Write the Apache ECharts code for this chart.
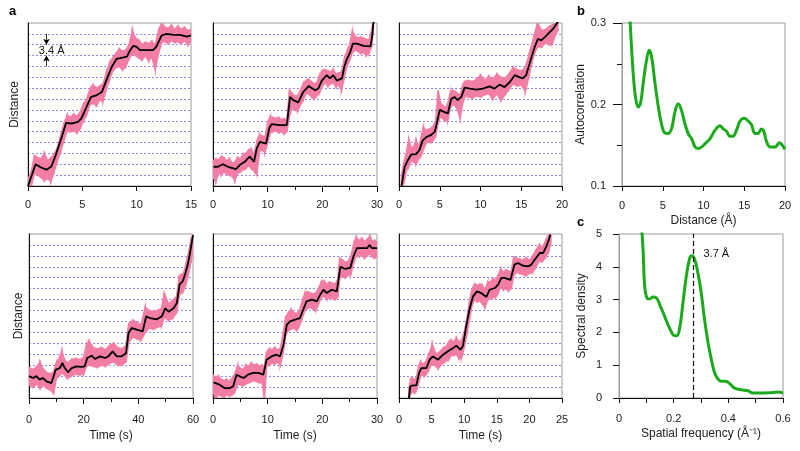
<!DOCTYPE html>
<html><head><meta charset="utf-8">
<script src="https://cdn.jsdelivr.net/npm/echarts@6/dist/echarts.min.js"></script>
<style>html,body{margin:0;padding:0;background:#fff}#c{width:800px;height:451px}</style>
</head><body><div id="c"></div>
<script>
// ---------- DATA ----------
// Panel a traces: black = smoothed [time, distance(step units)], pink = raw band [time, low, high]
const black1 = [[0,0],[0.7,2.0],[1.2,1.7],[1.7,1.5],[2.15,1.8],[2.5,2.7],[2.8,3.6],[3.2,4.8],[3.5,5.8],[4.0,5.75],[4.6,5.9],[4.9,6.2],[5.4,7.3],[5.8,8.2],[6.3,8.35],[6.8,8.65],[7.2,9.7],[7.7,10.95],[8.15,11.7],[8.6,11.8],[9.1,11.9],[9.4,12.5],[9.7,12.9],[10.0,12.8],[10.3,12.5],[10.9,12.5],[11.5,12.5],[11.8,12.8],[12.3,13.85],[12.75,14.0],[13.4,13.9],[14.0,13.9],[14.6,13.75],[15,13.85]];
const pink1 = [[0,0,0.6],[0.3,0,1.3],[0.6,1.2,2.8],[0.9,1.0,2.6],[1.2,0.8,2.5],[1.5,0.5,3.0],[1.8,0.7,2.3],[2.1,0.4,2.6],[2.4,1.3,2.9],[2.7,2.3,3.5],[3.0,3.2,4.6],[3.3,4.2,5.7],[3.6,5.1,6.5],[3.9,5.0,6.3],[4.2,5.1,6.6],[4.5,4.9,6.4],[4.8,5.3,6.8],[5.1,6.0,7.5],[5.4,6.6,8.0],[5.7,7.5,8.9],[6.0,7.6,9.3],[6.3,7.4,9.0],[6.6,7.9,9.2],[6.9,7.8,9.4],[7.2,8.9,10.4],[7.5,9.8,11.3],[7.8,10.6,11.8],[8.1,10.9,12.2],[8.4,11.0,12.6],[8.7,10.7,12.4],[9.0,11.0,12.5],[9.3,11.7,13.0],[9.6,12.2,14.3],[9.9,12.0,13.6],[10.2,11.8,13.4],[10.5,11.6,13.0],[10.8,12.0,13.2],[11.1,11.5,13.1],[11.4,11.9,13.3],[11.7,10.7,13.0],[12.0,12.2,14.2],[12.3,13.2,15.0],[12.6,13.3,14.6],[12.9,13.1,14.5],[13.2,13.4,14.8],[13.5,13.2,14.4],[13.8,13.3,14.7],[14.1,13.1,14.4],[14.4,13.4,14.6],[14.7,13.0,14.3],[15.0,13.4,14.4]];

const black2 = [[0.1,1.77],[0.9,1.77],[1.8,2.0],[2.75,1.77],[4.2,1.56],[4.9,1.93],[5.8,2.23],[6.7,2.7],[7.5,2.23],[8.0,3.46],[8.6,4.07],[9.7,3.9],[10.3,5.3],[10.7,5.7],[12.2,5.6],[13.5,5.6],[14.1,8.2],[14.7,7.9],[15.6,7.7],[16.5,8.65],[17.5,9.2],[18.1,9.0],[18.7,8.8],[19.3,9.0],[19.9,9.7],[20.8,10.2],[21.4,9.9],[22.0,10.2],[22.65,9.7],[23.6,9.9],[24.0,10.95],[24.5,11.7],[25.0,12.2],[25.6,13.1],[26.3,13.1],[27.55,12.9],[28.8,12.85],[29.1,13.7],[29.3,14.8],[29.4,15.2]];
const pink2 = [[0,0.8,2.3],[0.5,0.4,2.5],[1,1.2,2.4],[1.5,1.0,2.7],[2,1.3,2.6],[2.5,1.1,2.3],[3,1.0,2.5],[3.5,0.9,2.1],[4,0.5,2.2],[4.5,1.2,2.6],[5,1.3,2.5],[5.5,1.5,2.9],[6,1.6,3.0],[6.5,1.9,3.3],[7,1.6,3.4],[7.5,1.4,2.9],[8,1.0,4.0],[8.5,3.2,4.7],[9,3.3,4.6],[9.5,3.1,4.5],[10,4.0,5.7],[10.5,4.9,6.4],[11,5.0,6.3],[11.5,5.1,6.2],[12,4.9,6.3],[12.5,5.0,6.1],[13,4.8,6.2],[13.5,5.0,6.0],[14,6.5,8.8],[14.5,7.2,8.5],[15,7.0,8.3],[15.5,6.9,8.3],[16,7.5,8.8],[16.5,7.9,9.4],[17,8.5,9.7],[17.5,8.5,9.8],[18,8.2,9.6],[18.5,8.0,9.4],[19,8.3,9.5],[19.5,8.6,10.2],[20,9.2,10.6],[20.5,9.5,10.7],[21,9.2,10.6],[21.5,9.4,10.5],[22,9.5,10.7],[22.5,9.1,10.3],[23,9.3,10.4],[23.5,8.8,10.5],[24,10.0,11.6],[24.5,11.0,12.4],[25,11.6,13.0],[25.5,12.3,14.2],[26,12.5,13.8],[26.5,12.4,13.6],[27,12.2,13.7],[27.5,12.3,13.6],[28,12.0,13.5],[28.5,12.2,13.4],[29,12.8,14.2],[29.3,14.2,15.2]];

const black3 = [[0.3,0],[0.5,0.86],[0.7,1.77],[1.1,2.4],[1.5,2.9],[2.1,2.94],[2.5,3.3],[2.9,4.2],[3.35,4.5],[3.95,4.7],[4.4,5.0],[5.0,7.0],[5.6,6.8],[6.0,6.67],[6.4,8.0],[6.8,8.2],[7.2,7.9],[7.65,8.2],[8.05,9.05],[8.7,8.96],[9.5,8.87],[10.3,8.96],[11.1,9.17],[11.7,8.96],[12.35,9.33],[12.95,9.1],[13.6,9.57],[14.2,10.2],[14.8,10.0],[15.2,9.9],[15.6,10.2],[16.2,11.7],[16.65,12.8],[17.05,13.55],[17.45,13.4],[17.9,13.7],[18.5,14.15],[18.9,14.45],[19.3,14.9],[19.5,15.1]];
const pink3 = [[0.3,0,1.0],[0.6,0.3,2.2],[0.9,1.4,3.0],[1.2,1.8,4.3],[1.5,2.3,3.5],[1.8,2.2,3.6],[2.1,2.0,4.2],[2.4,2.5,3.6],[2.7,2.8,4.4],[3.0,3.4,5.4],[3.3,3.9,5.1],[3.6,4.1,5.2],[3.9,4.0,5.3],[4.2,4.2,5.5],[4.5,4.6,6.0],[4.8,5.8,8.8],[5.1,6.4,7.6],[5.4,6.2,7.4],[5.7,6.0,7.2],[6.0,6.1,7.6],[6.3,7.2,8.6],[6.6,7.5,8.8],[6.9,7.4,8.7],[7.2,7.0,8.5],[7.5,6.2,8.4],[7.8,7.6,9.2],[8.1,8.3,9.6],[8.5,8.2,9.7],[9,8.1,9.6],[9.5,8.3,9.8],[10,8.2,10.2],[10.5,8.4,9.7],[11,8.5,10.1],[11.5,8.0,9.8],[12,8.5,10.3],[12.5,7.9,10.0],[13,8.4,9.9],[13.5,8.9,10.3],[14,9.4,10.9],[14.5,9.2,10.7],[15,9.3,10.6],[15.5,8.7,10.9],[16,10.3,12.2],[16.5,12.0,13.6],[17,12.8,15],[17.5,12.8,14.3],[18,13.2,14.4],[18.5,13.0,14.7],[18.8,13.1,14.8],[19.2,13.9,15],[19.5,14.3,15]];

const black4 = [[0,2.0],[1.5,1.83],[2.7,2.0],[3.9,1.68],[5.1,1.83],[6.4,1.52],[8.2,1.37],[8.8,1.83],[9.8,2.6],[11.3,2.74],[12.2,3.2],[13.1,2.74],[14.3,2.35],[15.6,2.74],[17.4,2.9],[19.2,2.84],[20.4,2.9],[21.3,3.66],[22.9,3.87],[24.1,3.57],[25.96,3.81],[27.8,3.66],[29,3.81],[30.6,4.27],[32.1,3.81],[33.9,3.81],[35.5,4.1],[36.4,5.95],[37.6,6.4],[39.4,6.25],[41.6,6.1],[42.9,7.47],[44.3,7.3],[46.8,7.2],[48.6,7.47],[49.8,8.2],[51.1,7.9],[52.9,8.2],[54.1,8.7],[55.1,10.4],[56.3,10.7],[57.2,11.4],[58.1,12.2],[59.0,13.4],[59.7,13.4],[60,14.9]];
const pink4 = [[0,1.2,2.8],[1.5,1.0,2.6],[3,1.3,2.9],[4,0.9,3.3],[5,1.2,2.7],[6.5,0.9,2.3],[8,0.7,2.2],[9,0.4,2.4],[10,1.8,3.2],[11,2.0,3.6],[12,2.3,4.3],[13,2.1,3.5],[14,1.8,3.2],[15.5,2.0,3.5],[17,2.2,3.6],[18.5,2.1,3.5],[20,2.2,3.7],[21,2.9,4.8],[22,3.0,5.2],[23.5,2.9,4.6],[25,2.8,4.5],[26.5,3.0,4.6],[28,2.9,4.4],[29.5,3.2,4.8],[31,3.3,5.0],[32.5,3.0,4.6],[34,3.0,4.5],[35.5,3.3,4.8],[36.5,5.1,6.8],[38,5.6,7.1],[39.5,5.4,6.9],[41,5.3,6.7],[42.5,6.0,8.3],[44,6.4,8.0],[45.5,6.3,7.9],[47,6.5,8.0],[48.5,6.6,8.2],[49.5,7.4,9.6],[51,7.1,8.6],[52.5,7.3,8.9],[54,7.8,9.3],[55,9.4,11.2],[56.5,9.8,11.4],[57.5,10.5,12.3],[58.5,11.6,13.4],[59.3,12.5,14.5],[60,13.8,15]];

const black5 = [[0.1,1.43],[1.2,1.22],[2.1,0.91],[3.1,0.91],[3.7,1.07],[4.3,2.13],[4.9,1.98],[5.6,1.83],[6.4,2.13],[7.35,2.29],[8.3,2.29],[9.2,2.13],[9.8,3.5],[10.7,3.8],[11.6,3.96],[12.25,3.8],[12.9,4.88],[13.5,6.7],[14.1,7.0],[15.0,7.16],[15.9,7.3],[16.5,8.08],[17.1,8.84],[18.1,9.0],[19,8.84],[19.6,9.45],[20.2,9.9],[20.8,9.6],[21.7,9.9],[22.65,9.75],[23.3,12.0],[24.2,11.8],[25.1,11.9],[25.7,12.96],[26.3,13.7],[27.25,13.7],[28.2,13.7],[28.6,14.0],[29.1,13.7],[30,13.7]];
const pink5 = [[0,0.5,2.1],[0.5,0,1.9],[1,0.3,2.0],[1.5,0.2,1.7],[2,0.1,1.6],[2.5,0.3,1.7],[3,0.2,1.5],[3.5,0.3,1.8],[4,0.6,2.2],[4.5,1.3,3.0],[5,1.2,2.7],[5.5,1.1,2.6],[6,1.3,3.0],[6.5,1.4,2.9],[7,1.5,3.2],[7.5,1.6,3.0],[8,1.5,3.1],[8.5,1.4,2.9],[9,1.4,3.0],[9.4,0,2.8],[9.8,2.9,4.2],[10.3,3.0,4.5],[10.8,3.2,4.4],[11.3,3.1,4.6],[11.8,3.3,4.4],[12.3,3.0,4.5],[12.8,4.0,5.8],[13.3,5.8,7.4],[13.8,6.2,7.8],[14.3,6.3,8.1],[14.8,6.4,7.8],[15.3,6.2,7.7],[15.8,6.6,8.0],[16.3,7.3,8.8],[16.8,8.0,9.6],[17.3,8.2,9.7],[17.8,8.3,9.6],[18.3,8.1,9.5],[18.8,8.0,9.6],[19.3,8.6,10.0],[19.8,9.2,10.6],[20.3,9.3,10.7],[20.8,9.0,10.4],[21.3,9.2,10.6],[21.8,9.1,10.5],[22.3,9.0,10.4],[22.8,9.2,10.8],[23.2,11.0,12.8],[23.7,11.1,12.6],[24.2,11.0,12.4],[24.7,11.2,12.5],[25.2,11.3,12.9],[25.7,12.3,14.0],[26.2,13.0,14.7],[26.7,12.9,14.4],[27.2,13.1,14.6],[27.7,12.8,14.3],[28.2,13.0,14.5],[28.7,13.2,14.8],[29.2,12.9,14.3],[29.6,12.8,14.4],[30,13.0,14.2]];

const black6 = [[1.53,0],[1.74,1.07],[2.15,1.16],[2.66,1.16],[3.07,2.29],[3.43,2.74],[4.2,2.74],[4.7,3.5],[5.2,3.8],[6.0,3.5],[6.75,3.96],[7.5,4.27],[8.3,4.57],[8.8,4.79],[9.4,4.42],[9.8,4.73],[10.3,6.55],[10.8,8.08],[11.35,9.3],[11.96,9.75],[12.6,9.6],[13.4,9.24],[13.9,9.9],[14.7,10.06],[15.2,10.37],[15.7,10.98],[16.2,10.98],[17.1,10.8],[17.7,12.2],[18.25,12.35],[19.0,12.1],[19.8,12.04],[20.3,12.2],[20.8,12.65],[21.6,13.26],[22.1,13.26],[22.6,13.87],[23.0,14.5],[23.2,14.94]];
const pink6 = [[1.5,0,0.8],[1.8,0.4,1.8],[2.1,0.6,1.8],[2.4,0.5,1.6],[2.7,0.8,1.9],[3.0,1.4,2.9],[3.3,2.0,3.3],[3.6,2.1,3.1],[3.9,2.0,3.2],[4.2,2.2,3.4],[4.5,2.5,3.9],[4.8,2.9,4.3],[5.1,3.1,4.9],[5.4,3.0,4.4],[5.7,2.9,4.0],[6.0,2.7,4.1],[6.4,3.0,4.3],[6.8,3.2,4.6],[7.2,3.4,4.7],[7.6,3.5,5.1],[8.0,3.9,5.3],[8.4,3.9,5.1],[8.8,4.0,5.5],[9.2,3.6,5.1],[9.6,3.7,5.3],[10.0,4.6,6.0],[10.4,5.8,7.2],[10.8,7.2,8.8],[11.2,8.5,10.0],[11.6,9.0,10.4],[12.0,8.8,10.3],[12.4,8.9,10.4],[12.8,8.6,10.3],[13.2,8.3,9.9],[13.6,9.0,10.6],[14.0,9.1,10.6],[14.4,9.2,10.9],[14.8,9.2,10.8],[15.2,9.6,11.2],[15.6,10.2,11.8],[16.0,9.9,11.5],[16.4,10.0,11.7],[16.8,9.8,11.6],[17.2,10.0,11.5],[17.6,11.2,12.9],[18.0,11.5,12.8],[18.5,11.4,12.7],[19.0,11.3,12.6],[19.5,11.2,12.8],[20.0,11.4,12.6],[20.5,11.5,13.0],[21.0,12.0,13.5],[21.5,12.5,14.0],[22.0,12.5,13.8],[22.5,12.9,14.4],[23.0,13.5,15],[23.3,14.2,15]];

// Panel b: autocorrelation vs distance (Å)
const autoDist = [0.9,1.19,1.47,1.72,2.0,2.3,2.6,3.0,3.35,3.64,4.05,4.46,4.87,5.28,5.7,6.1,6.5,6.9,7.3,7.7,8.14,8.55,8.96,9.37,9.8,10.2,10.8,11.2,11.6,12.0,12.43,12.84,13.25,13.6,14.07,14.48,14.97,15.5,15.9,16.3,16.7,17.1,17.4,17.75,18.16,18.8,19.3,19.6,20];
const autoVal  = [0.32,0.2665,0.2257,0.205,0.197,0.203,0.226,0.254,0.2665,0.258,0.226,0.197,0.175,0.165,0.1645,0.171,0.191,0.201,0.193,0.177,0.164,0.158,0.148,0.146,0.148,0.152,0.158,0.165,0.171,0.174,0.170,0.167,0.161,0.161,0.169,0.1795,0.183,0.1795,0.175,0.1645,0.1645,0.170,0.167,0.154,0.148,0.148,0.153,0.151,0.145];

// Panel c: spectral density vs spatial frequency (1/Å)
const specFreq = [0.082,0.088,0.094,0.102,0.112,0.124,0.137,0.149,0.167,0.185,0.204,0.212,0.222,0.234,0.246,0.259,0.267,0.277,0.289,0.301,0.313,0.326,0.338,0.35,0.362,0.374,0.39,0.405,0.423,0.448,0.472,0.49,0.515,0.55,0.582,0.6];
const specVal  = [5.3,4.52,3.4,3.05,3.02,3.08,3.05,2.85,2.49,2.13,1.9,1.9,2.13,2.9,3.7,4.27,4.34,4.22,3.8,3.2,2.39,1.68,1.17,0.76,0.58,0.51,0.51,0.44,0.3,0.25,0.22,0.15,0.15,0.16,0.18,0.15];
const peakFreq = 0.265;
const peakLabel = '3.7 Å';

// axis settings
const xMax = [15, 30, 20, 60, 30, 25];
const xInt = [5, 10, 5, 20, 10, 5];
const xMinor = [false, true, false, true, true, false];
const stepCount = 15;          // distance axis spans 15 steps
const stepLabel = '3.4 Å';

// ---------- CHART ----------
const PINK = '#F27DA5', BLUE = '#8B8BF2', GREEN = '#1BAA1B', GRAY = '#9a9a9a';
const FONT = '"Liberation Sans", Arial, Helvetica, sans-serif';
const blacks = [black1, black2, black3, black4, black5, black6];
const pinks = [pink1, pink2, pink3, pink4, pink5, pink6];

const grids = [
  {left: 28, top: 23, width: 163, height: 163},
  {left: 213, top: 23, width: 164, height: 163},
  {left: 399, top: 23, width: 163, height: 163},
  {left: 29, top: 234, width: 164, height: 164},
  {left: 213, top: 234, width: 164, height: 164},
  {left: 399, top: 234, width: 163, height: 164},
  {left: 622, top: 23, width: 163, height: 163},
  {left: 619, top: 234, width: 164, height: 164}
].map(g => Object.assign({show: true, borderColor: GRAY, borderWidth: 1, backgroundColor: 'transparent'}, g));

const labelStyle = {color: '#222', fontFamily: FONT, fontSize: 11};
const nameStyle = {color: '#222', fontFamily: FONT, fontSize: 12};

function bandRenderer(pk) {
  return function (params, api) {
    const k = params.dataIndex;
    if (k === 0) return null;
    const a = pk[k - 1], b = pk[k];
    const pts = [api.coord([a[0], a[1]]), api.coord([b[0], b[1]]), api.coord([b[0], b[2]]), api.coord([a[0], a[2]])];
    return {
      type: 'polygon', shape: {points: pts},
      style: {fill: PINK, stroke: PINK, lineWidth: 1.6, lineJoin: 'miter'}
    };
  };
}

const xAxes = [], yAxes = [], series = [];
for (let i = 0; i < 6; i++) {
  const bottom = i >= 3;
  xAxes.push({
    type: 'value', gridIndex: i, min: 0, max: xMax[i], interval: xInt[i],
    axisLine: {lineStyle: {color: '#111', width: 1}},
    axisTick: {show: true, length: xMinor[i] ? 6 : 5, lineStyle: {color: '#111'}},
    minorTick: {show: xMinor[i], splitNumber: 2, length: 4, lineStyle: {color: '#111'}},
    axisLabel: Object.assign({margin: bottom ? 16 : 13}, labelStyle),
    splitLine: {show: false},
    name: bottom ? 'Time (s)' : '', nameLocation: 'middle', nameGap: 32, nameTextStyle: nameStyle
  });
  yAxes.push({
    type: 'value', gridIndex: i, min: 0, max: stepCount, interval: 1,
    axisLine: {show: true, lineStyle: {color: '#111', width: 1}},
    axisTick: {show: false},
    axisLabel: {show: false},
    splitLine: {show: true, showMinLine: false, showMaxLine: false, lineStyle: {color: BLUE, type: [2, 2], width: 1}},
    name: (i % 3 === 0) ? 'Distance' : '', nameLocation: 'middle', nameGap: (i === 0 ? 7 : 4), nameTextStyle: nameStyle
  });
  const pk = pinks[i];
  series.push({
    type: 'custom', xAxisIndex: i, yAxisIndex: i, clip: true, silent: true,
    data: pk, encode: {x: 0, y: [1, 2]},
    renderItem: bandRenderer(pk), z: 2
  });
  const blk = {
    type: 'line', xAxisIndex: i, yAxisIndex: i, data: blacks[i], symbol: 'none', silent: true,
    lineStyle: {color: '#000', width: 1.8}, z: 5
  };
  if (i === 0) {
    blk.markLine = {
      silent: true, symbol: ['none', 'arrow'], symbolSize: [5, 6],
      lineStyle: {color: '#000', width: 0.8, type: 'solid'}, label: {show: false},
      data: [
        [{coord: [1.7, 14]}, {coord: [1.7, 13]}],
        [{coord: [1.7, 11]}, {coord: [1.7, 12]}]
      ]
    };
    blk.markPoint = {
      silent: true, symbol: 'rect', symbolSize: 0,
      label: {show: true, position: 'inside', formatter: stepLabel, color: '#111', fontFamily: FONT, fontSize: 11},
      data: [{coord: [2.18, 12.45]}]
    };
  }
  series.push(blk);
}

// panel b
xAxes.push({
  type: 'value', gridIndex: 6, min: 0, max: 20, interval: 5,
  axisLine: {lineStyle: {color: '#111'}}, axisTick: {length: 5, lineStyle: {color: '#111'}},
  axisLabel: Object.assign({margin: 14}, labelStyle), splitLine: {show: false},
  name: 'Distance (Å)', nameLocation: 'middle', nameGap: 29, nameTextStyle: nameStyle
});
yAxes.push({
  type: 'value', gridIndex: 6, min: 0.1, max: 0.3, interval: 0.1,
  axisLine: {show: true, lineStyle: {color: GRAY}}, axisTick: {show: true, length: 9, lineStyle: {color: '#111'}},
  minorTick: {show: true, splitNumber: 2, length: 5, lineStyle: {color: '#111'}},
  axisLabel: Object.assign({margin: 16, formatter: v => v.toFixed(1)}, labelStyle), splitLine: {show: false},
  name: 'Autocorrelation', nameLocation: 'middle', nameGap: 34, nameTextStyle: nameStyle
});
series.push({
  type: 'line', xAxisIndex: 6, yAxisIndex: 6, data: autoDist.map((d, k) => [d, autoVal[k]]),
  symbol: 'none', smooth: 0.4, silent: true, lineStyle: {color: GREEN, width: 3}
});

// panel c
xAxes.push({
  type: 'value', gridIndex: 7, min: 0, max: 0.6, interval: 0.2,
  axisLine: {lineStyle: {color: '#111'}}, axisTick: {length: 5, lineStyle: {color: '#111'}},
  minorTick: {show: true, splitNumber: 2, length: 5, lineStyle: {color: '#111'}},
  axisLabel: Object.assign({margin: 15, formatter: v => (v === 0 ? '0' : v.toFixed(1))}, labelStyle), splitLine: {show: false},
  name: 'Spatial frequency (Å⁻¹)', nameLocation: 'middle', nameGap: 30, nameTextStyle: nameStyle
});
yAxes.push({
  type: 'value', gridIndex: 7, min: 0, max: 5, interval: 1,
  axisLine: {show: true, lineStyle: {color: GRAY}}, axisTick: {show: true, length: 6, lineStyle: {color: '#111'}},
  axisLabel: Object.assign({margin: 17}, labelStyle), splitLine: {show: false},
  name: 'Spectral density', nameLocation: 'middle', nameGap: 31, nameTextStyle: nameStyle
});
series.push({
  type: 'line', xAxisIndex: 7, yAxisIndex: 7, data: specFreq.map((d, k) => [d, specVal[k]]),
  symbol: 'none', smooth: 0.4, silent: true, lineStyle: {color: GREEN, width: 3},
  markLine: {
    silent: true, symbol: 'none', label: {show: false},
    lineStyle: {color: '#111', type: [5, 3], width: 1.2},
    data: [{xAxis: peakFreq}]
  },
  markPoint: {
    silent: true, symbol: 'rect', symbolSize: 0,
    label: {show: true, position: 'inside', formatter: peakLabel, color: '#111', fontFamily: FONT, fontSize: 11},
    data: [{coord: [0.356, 4.39]}]
  }
});

const chart = echarts.init(document.getElementById('c'), null, {renderer: 'canvas'});
chart.setOption({
  animation: false,
  backgroundColor: '#fff',
  grid: grids, xAxis: xAxes, yAxis: yAxes, series: series,
  graphic: [
    {type: 'text', left: 9, top: 5, style: {text: 'a', font: 'bold 13px ' + FONT, fill: '#000'}},
    {type: 'text', left: 577, top: 5, style: {text: 'b', font: 'bold 13px ' + FONT, fill: '#000'}},
    {type: 'text', left: 577, top: 216, style: {text: 'c', font: 'bold 13px ' + FONT, fill: '#000'}}
  ]
});
</script>
</body></html>
